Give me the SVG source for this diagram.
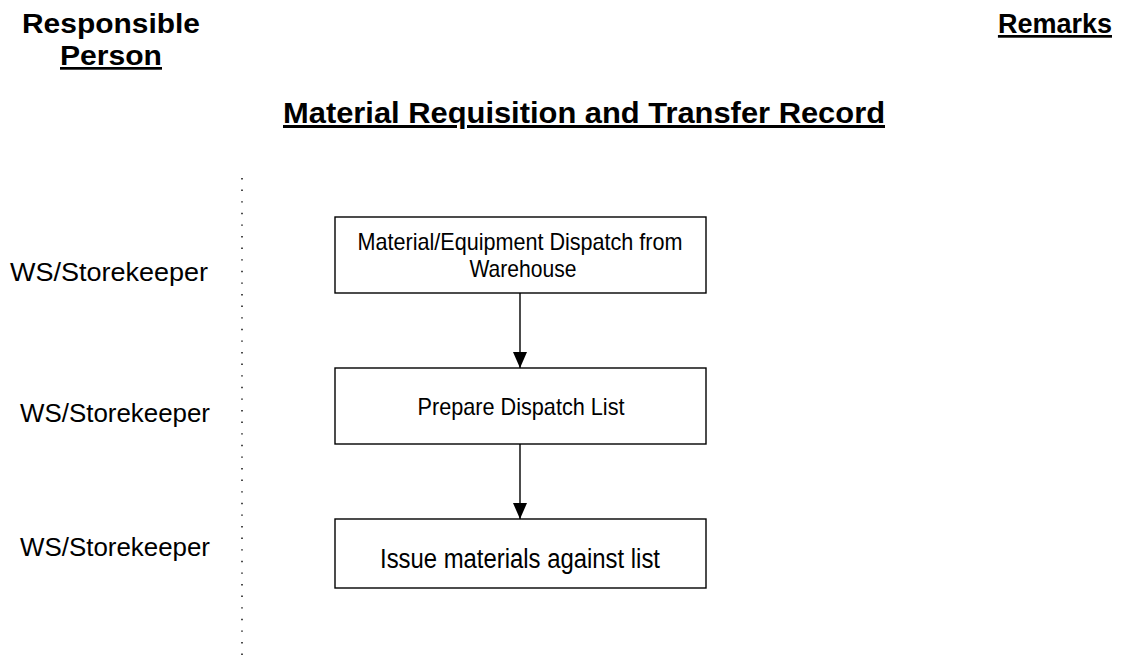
<svg xmlns="http://www.w3.org/2000/svg" width="1126" height="662" viewBox="0 0 1126 662">
<style>
text{font-family:"Liberation Sans",Arial,sans-serif;fill:#000}
.h{font-weight:bold;font-size:27px}
.u{text-decoration:underline}
.lbl{font-size:26px}
.box{fill:#fff;stroke:#000;stroke-width:1.4}
.bt{font-size:24px;text-anchor:middle}
.conn{stroke:#000;stroke-width:1.4;fill:none}
</style>
<defs>
<marker id="ah" markerWidth="16" markerHeight="14" refX="16" refY="7" orient="auto" markerUnits="userSpaceOnUse" viewBox="0 0 16 14">
<path d="M0,0 L16,7 L0,14 Z" fill="#000"/>
</marker>
</defs>
<rect width="1126" height="662" fill="#fff"/>
<g id="headers">
<text class="h" x="111" y="33" text-anchor="middle" textLength="178" lengthAdjust="spacingAndGlyphs">Responsible</text>
<text class="h u" x="111" y="65" text-anchor="middle" textLength="102" lengthAdjust="spacingAndGlyphs">Person</text>
<text class="h u" x="1112" y="33" text-anchor="end">Remarks</text>
<text class="h u" x="584" y="123" text-anchor="middle" textLength="602" lengthAdjust="spacingAndGlyphs" style="font-size:30px">Material Requisition and Transfer Record</text>
</g>
<g id="divider">
<line x1="242" y1="178" x2="242" y2="656" stroke="#000" stroke-width="1.4" stroke-dasharray="1.4 10.2"/>
</g>
<g id="persons">
<text class="lbl" x="109" y="281" text-anchor="middle" textLength="198" lengthAdjust="spacingAndGlyphs">WS/Storekeeper</text>
<text class="lbl" x="115" y="422" text-anchor="middle" textLength="190" lengthAdjust="spacingAndGlyphs">WS/Storekeeper</text>
<text class="lbl" x="115" y="556" text-anchor="middle" textLength="190" lengthAdjust="spacingAndGlyphs">WS/Storekeeper</text>
</g>
<g id="connectors">
<line class="conn" x1="520" y1="293" x2="520" y2="368" marker-end="url(#ah)"/>
<line class="conn" x1="520" y1="444" x2="520" y2="519" marker-end="url(#ah)"/>
</g>
<g id="node1">
<rect class="box" x="335" y="217" width="371" height="76"/>
<text class="bt" x="520" y="250" textLength="325" lengthAdjust="spacingAndGlyphs">Material/Equipment Dispatch from</text>
<text class="bt" x="523" y="277" textLength="107" lengthAdjust="spacingAndGlyphs">Warehouse</text>
</g>
<g id="node2">
<rect class="box" x="335" y="368" width="371" height="76"/>
<text class="bt" x="521" y="415" textLength="207" lengthAdjust="spacingAndGlyphs">Prepare Dispatch List</text>
</g>
<g id="node3">
<rect class="box" x="335" y="519" width="371" height="69"/>
<text class="bt" x="520" y="568" textLength="280" lengthAdjust="spacingAndGlyphs" style="font-size:27px">Issue materials against list</text>
</g>
</svg>
